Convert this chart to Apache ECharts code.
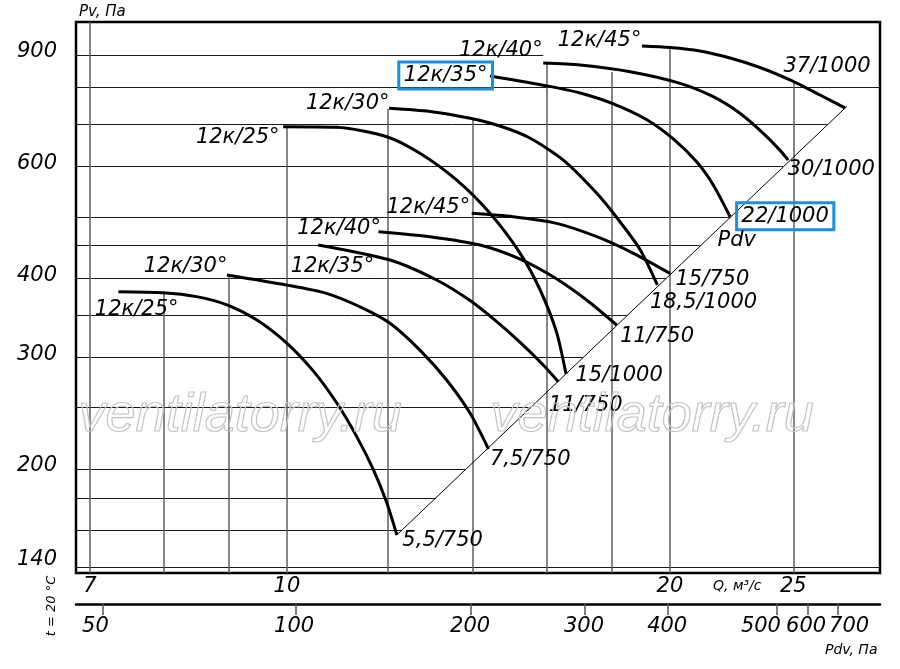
<!DOCTYPE html>
<html><head><meta charset="utf-8">
<script src="https://cdn.jsdelivr.net/npm/echarts@6/dist/echarts.min.js"></script>
<style>html,body{margin:0;padding:0;background:#fff}#c{width:900px;height:669px}</style>
</head><body><div id="c"></div>
<script>
// ---- axis ranges and tick labels ----
const Q_MIN = 6.826, Q_MAX = 29.25, P_MIN = 137.0, P_MAX = 1014.7;
const qTicks = [7, 10, 20, 25];
const pTicks = [140, 200, 300, 400, 600, 900];
const pdvTicks = [50, 100, 200, 300, 400, 500, 600, 700];
const pdvTickQ = [7.17, 10.16, 13.95, 17.15, 19.93, 24.28, 25.67, 27.11];   // tick marks on the Pdv scale (Q-equivalent)
const pdvLabelQ = [7.07, 10.13, 13.93, 17.12, 19.90, 23.58, 25.59, 27.66];  // where each Pdv number is printed

// ---- grid lines (nomogram: lines stop at curves / Pdv line) ----
const hLevels = [140, 160, 180, 200, 250, 300, 350, 400, 450, 500, 600, 700, 800, 900];
const hEnds   = [null, 12.30, 13.09, 13.82, 15.53, 17.08, 18.51, 19.85, 21.10, 22.30, 24.53, 26.57, null, 15.9];
const vLevels = [7, 8, 9, 10, 12, 14, 16, 18, 20, 25];
const vTops   = [null, 380, 405, 693, 740, 716, 874, 846, 923, 813];

// ---- Pdv line ----
const pdvLine = [[12.20, 157.3], [27.55, 747]];

// ---- fan curves [Q m3/s, Pv Pa] ----
const curve25s = [[7.37,380.8],[7.99,379.4],[8.49,374],[8.97,363],[9.47,343.6],[10.0,315.7],[10.49,285.3],[10.94,254.3],[11.34,225.3],[11.69,199.6],[11.98,176.8],[12.20,157.3]];
const curve30s = [[8.97,404.6],[10.0,390],[10.74,378.5],[11.48,358.5],[12.05,339.5],[12.72,308],[13.35,276.3],[13.93,244.8],[14.40,215]];
const curve35s = [[10.58,451.2],[12.05,427.2],[13.11,397.3],[13.93,368.7],[14.61,341.8],[15.25,316.7],[15.90,291.8],[16.34,274.6]];
const curve40s = [[11.80,473.6],[12.95,465],[14.18,451.2],[15.25,428.8],[16.19,402],[17.20,369.5],[18.16,337.4]];
const curve45s = [[13.97,506.2],[15.06,500],[16.29,488.1],[17.52,465],[18.72,437.8],[20.00,407]];
const curve25b = [[9.93,693.5],[10.94,692],[11.98,668.8],[12.72,629.6],[13.59,571.5],[14.44,506.3],[15.25,437.8],[15.81,383.5],[16.29,328.5],[16.57,282.3]];
const curve30b = [[12.03,741.5],[12.95,733],[13.93,715],[14.70,695.3],[15.52,665.6],[16.49,614.3],[17.52,544.4],[18.27,491],[18.95,443.5],[19.55,390.2]];
const curve35b = [[14.44,834],[16.01,804.5],[17.00,784],[18.05,753.7],[19.18,711.4],[20.12,663.4],[20.99,610.4],[21.63,561.2],[22.30,500]];
const curve40b = [[15.90,874.2],[17.00,867.9],[18.61,847],[20.37,812],[21.63,773.5],[22.70,728.2],[23.68,677],[24.40,637],[24.77,614.3]];
const curve45b = [[19.01,929.9],[20.00,924.9],[21.11,913.2],[22.30,890.2],[23.54,860],[24.85,821.9],[26.24,778.2],[27.45,742.5]];

const curveNames  = ['12к/25°','12к/30°','12к/35°','12к/40°','12к/45°','12к/25°','12к/30°','12к/35°','12к/40°','12к/45°'];
const motorLabels = ['5,5/750','7,5/750','11/750','11/750','15/750','15/1000','18,5/1000','22/1000','30/1000','37/1000'];
const curves = [curve25s, curve30s, curve35s, curve40s, curve45s, curve25b, curve30b, curve35b, curve40b, curve45b];

// ---- label styling (offsets in px, alignment, highlight box) ----
const startStyle = [
  {a:'left',  o:[-23,18]}, {a:'right', o:[1,-8]}, {a:'left', o:[-27,22]}, {a:'right', o:[3,-3]}, {a:'right', o:[-1,-5]},
  {a:'right', o:[-3,11]}, {a:'right', o:[1,-4]}, {a:'right', o:[3,0], box:true}, {a:'right', o:[0,-12]}, {a:'right', o:[0,-5]}
];
const endStyle = [
  {o:[6,6]}, {o:[2,11]}, {o:[-9,24]}, {o:[4,12]}, {o:[6,7]},
  {o:[10,2]}, {o:[-7,18]}, {o:[7,0], box:true}, {o:[0,10]}, {o:[-61,-41]}
];
const FONT = 'DejaVu Sans';
const BLUE = '#1a8fe0';

function lbl(text, off, align, box) {
  const l = {show:true, formatter:text, position:off, align:align, verticalAlign:'middle',
    fontFamily:FONT, fontStyle:'italic', fontSize:21, color:'#000', lineHeight:24, opacity:1};
  if (box) { l.borderColor = BLUE; l.borderWidth = 3; l.padding = [2,5,1,5]; }
  return l;
}

const gridData = [];
hLevels.forEach((p,i) => gridData.push({coords:[[Q_MIN,p],[hEnds[i] == null ? Q_MAX : hEnds[i], p]],
  lineStyle:{color:'#1a1a1a', width:1}}));
vLevels.forEach((q,i) => gridData.push({coords:[[q,P_MIN],[q, vTops[i] == null ? P_MAX : vTops[i]]],
  lineStyle:{color:'#5e5e5e', width:1.5}}));

const labelData = [];
curves.forEach((c,i) => {
  const s = startStyle[i], e = endStyle[i];
  labelData.push({value:c[0], label:lbl(curveNames[i], s.o, s.a, s.box)});
  labelData.push({value:c[c.length-1], label:lbl(motorLabels[i], e.o, 'left', e.box)});
});
labelData.push({value:curve35b[curve35b.length-1], label:lbl('Pdv', [-12,24], 'left', false)});

const series = [
  {type:'lines', coordinateSystem:'cartesian2d', silent:true, z:1, data:gridData, lineStyle:{opacity:1}},
  {type:'line', data:pdvLine, symbol:'none', silent:true, z:2, lineStyle:{color:'#000', width:1}},
];
curves.forEach((c,i) => series.push({type:'line', name:curveNames[i], data:c, symbol:'none',
  smooth:0.25, silent:true, z:3, lineStyle:{color:'#000', width:3}}));
series.push({type:'scatter', data:labelData, symbolSize:1, silent:true, z:5,
  itemStyle:{color:'rgba(255,255,255,0)'}});

const axisFont = {fontFamily:FONT, fontStyle:'italic', fontSize:21, color:'#000'};
const chart = echarts.init(document.getElementById('c'), null, {renderer:'canvas'});
chart.setOption({
  animation:false,
  backgroundColor:'#fff',
  grid:{left:76, right:20, top:22, bottom:96, show:true, borderColor:'#000', borderWidth:2.5,
        backgroundColor:'transparent', containLabel:false, outerBoundsMode:'none'},
  xAxis:[
    {type:'log', min:Q_MIN, max:Q_MAX, position:'bottom',
     axisLine:{show:false}, axisTick:{show:false}, splitLine:{show:false}, minorTick:{show:false},
     axisLabel:Object.assign({customValues:qTicks, margin:3, showMinLabel:true, showMaxLabel:true,
       formatter:v => String(Math.round(v))}, axisFont)},
    {type:'log', min:Q_MIN, max:Q_MAX, position:'bottom', offset:31,
     axisLine:{show:true, lineStyle:{color:'#000', width:2.5}},
     axisTick:{show:true, customValues:pdvTickQ, length:11, lineStyle:{color:'#555', width:1.5}},
     splitLine:{show:false},
     axisLabel:Object.assign({customValues:pdvLabelQ, margin:12, showMinLabel:true, showMaxLabel:true, hideOverlap:false,
       formatter:v => {
        let k = 0, best = 1e9;
        pdvLabelQ.forEach((q,i) => { const d = Math.abs(q - v); if (d < best) { best = d; k = i; } });
        return String(pdvTicks[k]);
     }}, axisFont)}
  ],
  yAxis:{type:'log', min:P_MIN, max:P_MAX,
     axisLine:{show:false}, axisTick:{show:false}, splitLine:{show:false}, minorTick:{show:false},
     axisLabel:Object.assign({customValues:pTicks, margin:19, padding:[0,0,6,0], showMinLabel:true, showMaxLabel:true,
       formatter:v => Math.round(v) === 140 ? '{lo|140}' : String(Math.round(v)),
       rich:{lo:{fontFamily:FONT, fontStyle:'italic', fontSize:21, color:'#000', padding:[0,0,8,0]}}}, axisFont)},
  series:series,
  graphic:[
    {type:'text', left:79, top:5, z:10, style:{text:'Pv, Па', font:'italic 15px "DejaVu Sans"', fill:'#000'}},
    {type:'text', left:713, top:579, z:10, style:{text:'Q, м³/с', font:'italic 14px "DejaVu Sans"', fill:'#000'}},
    {type:'text', left:825, top:643, z:10, style:{text:'Pdv, Па', font:'italic 14px "DejaVu Sans"', fill:'#000'}},
    {type:'text', x:52, y:606, rotation:Math.PI/2, z:10,
     style:{text:'t = 20 °С', font:'italic 13px "DejaVu Sans"', fill:'#000', align:'center', verticalAlign:'middle'}},
    {type:'text', left:78, top:388, z:20, silent:true,
     style:{text:'ventilatorry.ru', font:'italic 54px "Liberation Sans"', fill:'rgba(255,255,255,0)', stroke:'#c4c4c4', lineWidth:1.2}},
    {type:'text', left:490, top:388, z:20, silent:true,
     style:{text:'ventilatorry.ru', font:'italic 54px "Liberation Sans"', fill:'rgba(255,255,255,0)', stroke:'#c4c4c4', lineWidth:1.2}}
  ]
});
</script>
</body></html>
